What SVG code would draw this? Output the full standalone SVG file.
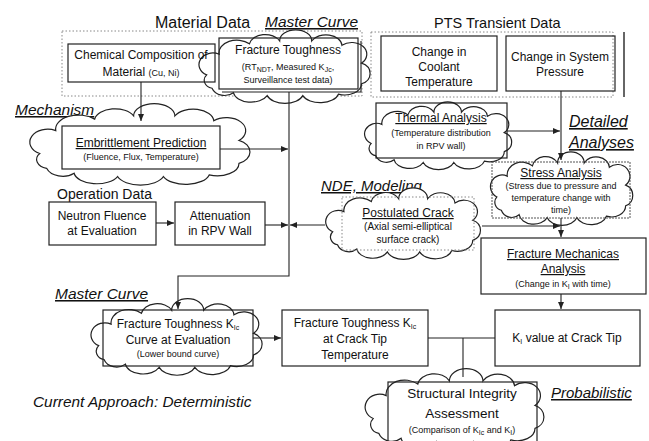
<svg xmlns="http://www.w3.org/2000/svg" xmlns:xlink="http://www.w3.org/1999/xlink" width="649" height="441" viewBox="0 0 649 441">
<style>
text{font-family:"Liberation Sans",Arial,sans-serif;fill:#111;text-anchor:middle}
.t12{font-size:12px}
.t13{font-size:13.5px}
.s9{font-size:9px}
.s10{font-size:10px}
.u{text-decoration:underline}
.lbl{font-size:15.5px;font-style:italic;text-anchor:start;text-decoration:underline}
.hdr{font-size:16px;text-anchor:start}
.box{fill:none;stroke:#222;stroke-width:1.2}
.dot{fill:none;stroke:#888;stroke-width:1;stroke-dasharray:1.5 2}
.cl{fill:#fff;stroke:#222;stroke-width:1.2;vector-effect:non-scaling-stroke}
.ln{fill:none;stroke:#222;stroke-width:1.1}
.sub{font-size:7px}
</style>
<defs>
<symbol id="cloud" viewBox="0 0 200 100" preserveAspectRatio="none" style="overflow:visible">
<path class="cl" d="M12,58 A15,15 0 0 1 26,30 A20,17 0 0 1 60,16 A18,15 0 0 1 94,12 A18,15 0 0 1 130,12 A18,15 0 0 1 164,18 A16,15 0 0 1 186,42 A15,15 0 0 1 186,70 A19,15 0 0 1 160,84 A21,15 0 0 1 120,86 A21,15 0 0 1 80,86 A20,15 0 0 1 42,82 A15,15 0 0 1 18,76 A11,11 0 0 1 12,58 Z"/>
</symbol>
<marker id="ar" markerWidth="7" markerHeight="7" refX="7" refY="3.5" orient="auto" markerUnits="userSpaceOnUse">
<path d="M0,0.5 L7,3.5 L0,6.5 z" fill="#222"/>
</marker>
</defs>
<rect width="649" height="441" fill="#fff"/>

<g id="labels">
<text class="hdr" x="155" y="28">Material Data</text>
<text class="lbl" x="265" y="27">Master Curve</text>
<text class="hdr" x="434" y="28" style="font-size:14.5px">PTS Transient Data</text>
<text class="lbl" x="15" y="115">Mechanism</text>
<text class="hdr" x="57" y="199" style="font-size:14px">Operation Data</text>
<text class="lbl" x="321" y="191" style="font-size:15px">NDE, Modeling</text>
<text class="lbl" x="569" y="127" style="font-size:16px">Detailed</text>
<text class="lbl" x="569" y="148" style="font-size:16px">Analyses</text>
<text class="lbl" x="55" y="299">Master Curve</text>
<text class="lbl" x="551" y="398" style="font-size:15px">Probabilistic</text>
<text x="33" y="407" style="font-size:15.4px;font-style:italic;text-anchor:start">Current Approach: Deterministic</text>
</g>

<g id="material-data-group">
<rect class="dot" x="62" y="31" width="300" height="65"/>
</g>
<g id="pts-group">
<rect class="dot" x="371" y="32" width="242" height="65"/>
<line x1="624" y1="32" x2="624" y2="97" stroke="#333" stroke-width="1.5"/>
</g>

<g id="fracture-toughness">
<use xlink:href="#cloud" x="196" y="32" width="178" height="74"/>
<rect class="box" x="219" y="38" width="139" height="51"/>
<polyline class="ln" points="361,41 361,92 222,92"/>
<text class="t12" x="288" y="54">Fracture Toughness</text>
<text class="s9" x="288" y="70">(RT<tspan class="sub" dy="2">NDT</tspan><tspan dy="-2">, Measured K</tspan><tspan class="sub" dy="2">Jc</tspan><tspan dy="-2">,</tspan></text>
<text class="s9" x="288" y="83">Surveillance test data)</text>
</g>

<g id="chemical-composition">
<rect class="box" x="68" y="44" width="147" height="38"/>
<text class="t12" x="141" y="59">Chemical Composition of</text>
<text class="t12" x="141" y="76">Material <tspan class="s9">(Cu, Ni)</tspan></text>
</g>

<g id="coolant-temperature">
<rect class="box" x="381" y="36" width="116" height="55"/>
<text class="t12" x="439" y="56">Change in</text>
<text class="t12" x="439" y="71">Coolant</text>
<text class="t12" x="439" y="86">Temperature</text>
</g>

<g id="system-pressure">
<rect class="box" x="506" y="36" width="109" height="55"/>
<text class="t12" x="560" y="61">Change in System</text>
<text class="t12" x="560" y="76">Pressure</text>
</g>

<g id="embrittlement">
<use xlink:href="#cloud" x="26" y="106" width="229" height="82"/>
<rect class="box" x="62" y="126" width="158" height="43"/>
<text class="t12 u" x="141" y="147">Embrittlement Prediction</text>
<text class="s9" x="141" y="160">(Fluence, Flux, Temperature)</text>
</g>

<g id="thermal-analysis">
<use xlink:href="#cloud" x="362" y="104" width="153" height="68"/>
<rect class="box" x="376" y="103" width="131" height="55"/>
<text class="t12 u" x="441" y="122">Thermal Analysis</text>
<text class="s9" x="441" y="136">(Temperature distribution</text>
<text class="s9" x="441" y="149">in RPV wall)</text>
</g>

<g id="neutron-fluence">
<rect class="box" x="49" y="202" width="107" height="43"/>
<text class="t12" x="102" y="220">Neutron Fluence</text>
<text class="t12" x="102" y="235">at Evaluation</text>
</g>

<g id="attenuation">
<rect class="box" x="175" y="202" width="90" height="43"/>
<text class="t12" x="220" y="220">Attenuation</text>
<text class="t12" x="220" y="235">in RPV Wall</text>
</g>

<g id="stress-analysis">
<use xlink:href="#cloud" x="488" y="154" width="148" height="74"/>
<rect x="492" y="162" width="138" height="56" fill="none" stroke="#555" stroke-width="1" stroke-dasharray="2 1"/>
<text class="t12 u" x="561" y="177">Stress Analysis</text>
<text class="s9" x="561" y="189">(Stress due to pressure and</text>
<text class="s9" x="561" y="201">temperature change with</text>
<text class="s9" x="561" y="213">time)</text>
</g>

<g id="postulated-crack">
<use xlink:href="#cloud" x="323" y="190" width="161" height="72"/>
<rect class="dot" x="342" y="197" width="132" height="53"/>
<text class="t12 u" x="408" y="217">Postulated Crack</text>
<text class="s10" x="408" y="230">(Axial semi-elliptical</text>
<text class="s10" x="408" y="243">surface crack)</text>
</g>

<g id="fracture-mechanics">
<rect class="box" x="481" y="238" width="165" height="56"/>
<text class="t12 u" x="563" y="258">Fracture Mechanicas</text>
<text class="t12 u" x="563" y="273">Analysis</text>
<text class="s9" x="563" y="287">(Change in K<tspan class="sub" dy="2">I</tspan><tspan dy="-2"> with time)</tspan></text>
</g>

<g id="fracture-toughness-curve">
<use xlink:href="#cloud" x="88" y="301" width="178" height="77"/>
<rect class="box" x="103" y="310" width="150" height="56" stroke-width="1.6"/>
<text class="t12" x="178" y="328">Fracture Toughness K<tspan class="sub" dy="2">Ic</tspan></text>
<text class="t12" x="178" y="344">Curve at Evaluation</text>
<text class="s9" x="178" y="357">(Lower bound curve)</text>
</g>

<g id="fracture-toughness-crack-tip">
<rect class="box" x="282" y="310" width="146" height="56"/>
<text class="t12" x="355" y="327">Fracture Toughness K<tspan class="sub" dy="2">Ic</tspan></text>
<text class="t12" x="355" y="343">at Crack Tip</text>
<text class="t12" x="355" y="359">Temperature</text>
</g>

<g id="ki-value">
<rect class="box" x="495" y="310" width="145" height="56"/>
<text class="t12" x="567" y="342">K<tspan class="sub" dy="2">I</tspan><tspan dy="-2"> value at Crack Tip</tspan></text>
</g>

<g id="structural-integrity">
<use xlink:href="#cloud" x="362" y="371" width="186" height="82"/>
<rect class="box" x="388" y="382" width="149" height="70"/>
<text class="t13" x="462" y="398">Structural Integrity</text>
<text class="t13" x="462" y="418">Assessment</text>
<text class="s9" x="462" y="433">(Comparison of K<tspan class="sub" dy="2">Ic</tspan><tspan dy="-2"> and K</tspan><tspan class="sub" dy="2">I</tspan><tspan dy="-2">)</tspan></text>
</g>

<g id="connectors">
<line class="ln" x1="141" y1="82" x2="141" y2="121" marker-end="url(#ar)"/>
<polyline class="ln" points="289,92 289,276 178,276 178,309" marker-end="url(#ar)"/>
<line class="ln" x1="220" y1="149" x2="288" y2="149" marker-end="url(#ar)"/>
<line class="ln" x1="156" y1="223" x2="174" y2="223" marker-end="url(#ar)"/>
<line class="ln" x1="265" y1="225" x2="288" y2="225" marker-end="url(#ar)"/>
<line class="ln" x1="325" y1="225" x2="290" y2="225" marker-end="url(#ar)"/>
<line class="ln" x1="561" y1="91" x2="561" y2="160" marker-end="url(#ar)"/>
<line class="ln" x1="507" y1="131" x2="560" y2="131" marker-end="url(#ar)"/>
<line class="ln" x1="561" y1="218" x2="561" y2="237" marker-end="url(#ar)"/>
<line class="ln" x1="482" y1="226" x2="560" y2="226" marker-end="url(#ar)"/>
<line class="ln" x1="561" y1="294" x2="561" y2="309" marker-end="url(#ar)"/>
<line class="ln" x1="253" y1="338" x2="281" y2="338" marker-end="url(#ar)"/>
<line class="ln" x1="428" y1="338" x2="495" y2="338"/>
<line class="ln" x1="463" y1="338" x2="463" y2="377"/>
</g>
</svg>
